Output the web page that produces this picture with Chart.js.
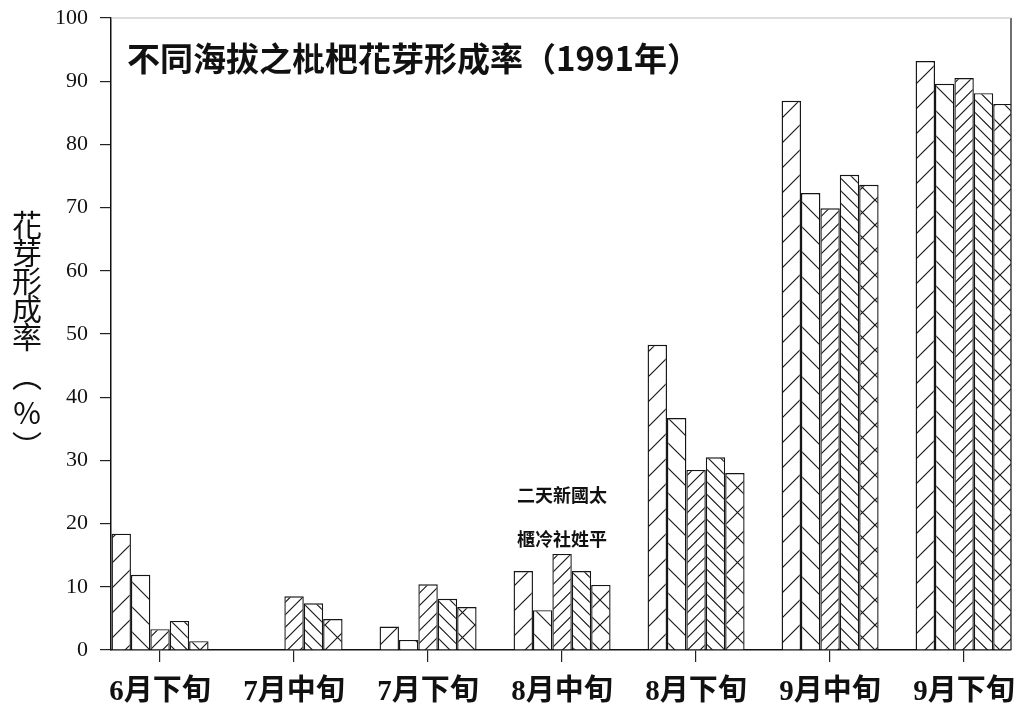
<!DOCTYPE html>
<html>
<head>
<meta charset="utf-8">
<script src="https://cdn.jsdelivr.net/npm/chart.js@4/dist/chart.umd.min.js"></script>
<style>
html,body{margin:0;padding:0;background:#fff;}
canvas{display:block;}
</style>
</head>
<body>
<canvas id="c" width="1016" height="713"></canvas>
<script>
// ---- data ----
const categories = ['6月下旬','7月中旬','7月下旬','8月中旬','8月下旬','9月中旬','9月下旬'];
const seriesNames = ['二櫃','天冷','新社','國姓','太平'];
const erGui   = [18.4, 0,   3.7, 12.5, 48.3, 86.9, 93.2];
const tianLeng= [11.9, 0,   1.6,  6.3, 36.7, 72.3, 89.6];
const xinShe  = [ 3.3, 8.5, 10.4, 15.2, 28.5, 69.9, 90.5];
const guoXing = [ 4.6, 7.4,  8.1, 12.5, 30.5, 75.2, 88.1];
const taiPing = [ 1.4, 4.9,  6.8, 10.3, 28.0, 73.6, 86.4];
const yTicks = [0,10,20,30,40,50,60,70,80,90,100];
const titleText = '不同海拔之枇杷花芽形成率（1991年）';
const yTitleChars = ['花','芽','形','成','率','︵','%','︶'];

// ---- hatch patterns ----
function makePattern(fwd, back, dense){
  const s = 25;
  const c = document.createElement('canvas');
  c.width = s; c.height = s;
  const g = c.getContext('2d');
  g.fillStyle = '#fff'; g.fillRect(0,0,s,s);
  g.strokeStyle = '#1a1a1a'; g.lineWidth = 1.2;
  const step = dense ? s/2 : s;
  g.beginPath();
  if (fwd) {
    for (let cc = 0; cc <= 2*s + 0.01; cc += step) {
      g.moveTo(cc+3, -3); g.lineTo(cc - s - 3, s + 3);
    }
  }
  if (back) {
    for (let cc = -s; cc <= s + 0.01; cc += step) {
      g.moveTo(cc-3, -3); g.lineTo(cc + s + 3, s + 3);
    }
  }
  g.stroke();
  return g.createPattern(c, 'repeat');
}
const fills = [
  makePattern(true,false,false),
  makePattern(false,true,false),
  makePattern(true,false,true),
  makePattern(false,true,true),
  makePattern(true,true,false)
];
const allSeries = [erGui, tianLeng, xinShe, guoXing, taiPing];

const CJK = "'Noto Sans CJK TC'";
const SERIF = "'Liberation Serif', 'Noto Sans CJK TC'";

const textPlugin = {
  id: 'texts',
  afterDraw(chart){
    const ctx = chart.ctx;
    const ca = chart.chartArea;
    const xs = chart.scales.x, ys = chart.scales.y;
    ctx.save();
    // frame: right border and faint top border
    ctx.strokeStyle = '#222'; ctx.lineWidth = 1.3;
    ctx.beginPath(); ctx.moveTo(ca.right, ca.top); ctx.lineTo(ca.right, ca.bottom); ctx.stroke();
    ctx.strokeStyle = '#bbb'; ctx.lineWidth = 1;
    ctx.beginPath(); ctx.moveTo(ca.left, ca.top); ctx.lineTo(ca.right, ca.top); ctx.stroke();
    // title
    ctx.fillStyle = '#111';
    ctx.font = "bold 33px " + CJK;
    ctx.textAlign = 'left'; ctx.textBaseline = 'middle';
    ctx.fillText(titleText, ca.left + 16, ys.getPixelForValue(93.6));
    // legend-like labels
    ctx.font = "bold 18px " + CJK;
    ctx.textAlign = 'center';
    const row1 = seriesNames.map(n => n[0]).join('');
    const row2 = seriesNames.map(n => n[1]).join('');
    ctx.fillText(row1, xs.getPixelForValue(3), ys.getPixelForValue(24.5));
    ctx.fillText(row2, xs.getPixelForValue(3), ys.getPixelForValue(17.6));
    // y title vertical
    ctx.font = "30px " + CJK;
    const ysPos = [225, 253, 281, 309, 337, 376, 413, 446];
    yTitleChars.forEach((ch, i) => {
      ctx.fillText(ch, 27, ysPos[i]);
    });
    ctx.restore();
  }
};

new Chart(document.getElementById('c'), {
  type: 'bar',
  data: {
    datasets: allSeries.map((arr, k) => ({
      label: seriesNames[k],
      data: arr.map((v, i) => ({x: i, y: v})),
      backgroundColor: fills[k],
      borderColor: '#151515',
      borderWidth: 1.4,
      categoryPercentage: 0.724,
      barPercentage: 1.0
    }))
  },
  options: {
    responsive: false,
    animation: false,
    devicePixelRatio: 1,
    layout: { padding: { left: 0, top: 18, right: 5, bottom: 0 } },
    plugins: { legend: { display: false }, tooltip: { enabled: false }, title: { display: false } },
    scales: {
      x: {
        type: 'linear',
        offset: false,
        min: -0.366,
        max: 6.35,
        afterBuildTicks(scale){ scale.ticks = categories.map((c, i) => ({ value: i })); },
        afterFit(scale){ scale.height = 63; scale.paddingLeft = 0; scale.paddingRight = 0; },
        ticks: {
          autoSkip: false,
          maxRotation: 0,
          padding: 13,
          color: '#111',
          font: { family: SERIF, size: 29, weight: 'bold' },
          callback: (v) => categories[v]
        },
        grid: { offset: false, drawOnChartArea: false, drawTicks: true, tickLength: 12, color: '#222', lineWidth: 1.2 },
        border: { display: true, color: '#111', width: 1.5 }
      },
      y: {
        min: 0,
        max: 100,
        afterBuildTicks(scale){ scale.ticks = yTicks.map(v => ({ value: v })); },
        afterFit(scale){ scale.width = 111; scale.paddingTop = 0; scale.paddingBottom = 0; },
        ticks: {
          padding: 12,
          color: '#111',
          font: { family: "'Liberation Serif'", size: 22 }
        },
        grid: { drawOnChartArea: false, drawTicks: true, tickLength: 11, color: '#222', lineWidth: 1.2 },
        border: { display: true, color: '#111', width: 1.5 }
      }
    }
  },
  plugins: [textPlugin]
});
</script>
</body>
</html>
